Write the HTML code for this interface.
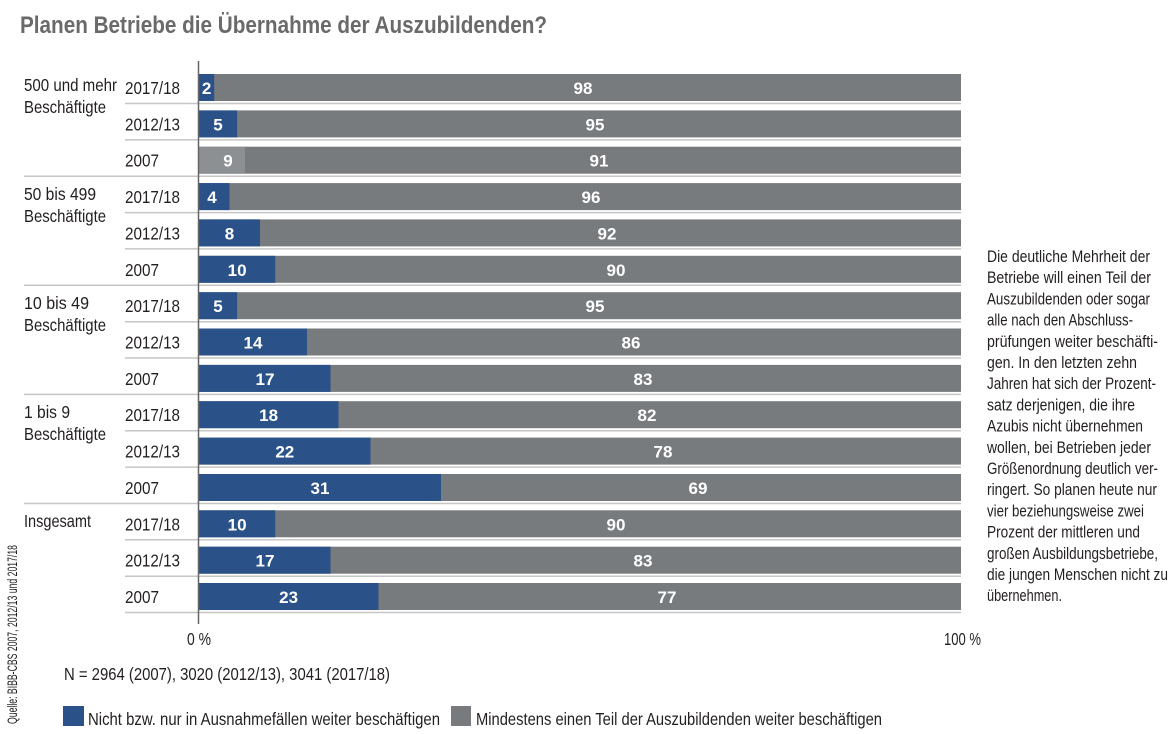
<!DOCTYPE html>
<html><head><meta charset="utf-8"><style>
html,body{margin:0;padding:0;background:#fff;}
svg{display:block;}
text{font-family:"Liberation Sans Narrow","Liberation Sans",sans-serif;fill:#231f20;}
.n{fill:#fff;font-size:17px;font-weight:bold;text-anchor:middle;}
.y{font-size:17.5px;}
.r{font-size:16.5px;}
</style></head><body>
<svg width="1174" height="734" viewBox="0 0 1174 734" xmlns="http://www.w3.org/2000/svg">
<text x="20" y="33" font-size="24" font-weight="bold" style="fill:#6a6a6a" textLength="527" lengthAdjust="spacingAndGlyphs">Planen Betriebe die Übernahme der Auszubildenden?</text>

<g stroke="#c6c6c6" stroke-width="1.5">
<line x1="125" x2="961" y1="103.5" y2="103.5"/><line x1="125" x2="961" y1="139.9" y2="139.9"/>
<line x1="24" x2="961" y1="176.2" y2="176.2"/>
<line x1="125" x2="961" y1="212.6" y2="212.6"/><line x1="125" x2="961" y1="248.9" y2="248.9"/>
<line x1="24" x2="961" y1="285.3" y2="285.3"/>
<line x1="125" x2="961" y1="321.7" y2="321.7"/><line x1="125" x2="961" y1="358" y2="358"/>
<line x1="24" x2="961" y1="394.4" y2="394.4"/>
<line x1="125" x2="961" y1="430.7" y2="430.7"/><line x1="125" x2="961" y1="467.1" y2="467.1"/>
<line x1="24" x2="961" y1="503.5" y2="503.5"/>
<line x1="125" x2="961" y1="539.8" y2="539.8"/><line x1="125" x2="961" y1="576.2" y2="576.2"/>
<line x1="125" x2="961" y1="612.5" y2="612.5"/>
</g>

<g fill="#777b7e">
<rect x="199" y="74" width="762" height="27"/><rect x="199" y="110.4" width="762" height="27"/><rect x="199" y="146.7" width="762" height="27"/>
<rect x="199" y="183.1" width="762" height="27"/><rect x="199" y="219.4" width="762" height="27"/><rect x="199" y="255.8" width="762" height="27"/>
<rect x="199" y="292.2" width="762" height="27"/><rect x="199" y="328.5" width="762" height="27"/><rect x="199" y="364.9" width="762" height="27"/>
<rect x="199" y="401.2" width="762" height="27"/><rect x="199" y="437.6" width="762" height="27"/><rect x="199" y="474" width="762" height="27"/>
<rect x="199" y="510.3" width="762" height="27"/><rect x="199" y="546.7" width="762" height="27"/><rect x="199" y="583" width="762" height="27"/>
</g>
<g fill="#2a5289">
<rect x="199" y="74" width="15.2" height="27"/><rect x="199" y="110.4" width="38.1" height="27"/>
<rect x="199" y="146.7" width="46" height="27" fill="#8d9093"/>
<rect x="199" y="183.1" width="30.5" height="27"/><rect x="199" y="219.4" width="61" height="27"/><rect x="199" y="255.8" width="76.2" height="27"/>
<rect x="199" y="292.2" width="38.1" height="27"/><rect x="199" y="328.5" width="108" height="27"/><rect x="199" y="364.9" width="131.5" height="27"/>
<rect x="199" y="401.2" width="139.5" height="27"/><rect x="199" y="437.6" width="171.5" height="27"/><rect x="199" y="474" width="242" height="27"/>
<rect x="199" y="510.3" width="76.2" height="27"/><rect x="199" y="546.7" width="131.5" height="27"/><rect x="199" y="583" width="179.5" height="27"/>
</g>
<line x1="198.5" x2="198.5" y1="61" y2="624" stroke="#666" stroke-width="1.5"/>

<g>
<text class="n" x="206.6" y="94">2</text><text class="n" x="583" y="94">98</text>
<text class="n" x="218" y="130.4">5</text><text class="n" x="595" y="130.4">95</text>
<text class="n" x="228" y="166.7">9</text><text class="n" x="599" y="166.7">91</text>
<text class="n" x="212" y="203.1">4</text><text class="n" x="591" y="203.1">96</text>
<text class="n" x="229.5" y="239.4">8</text><text class="n" x="607" y="239.4">92</text>
<text class="n" x="237.1" y="275.8">10</text><text class="n" x="616" y="275.8">90</text>
<text class="n" x="218" y="312.2">5</text><text class="n" x="595" y="312.2">95</text>
<text class="n" x="253" y="348.5">14</text><text class="n" x="631" y="348.5">86</text>
<text class="n" x="265" y="384.9">17</text><text class="n" x="643" y="384.9">83</text>
<text class="n" x="268.6" y="421.2">18</text><text class="n" x="647" y="421.2">82</text>
<text class="n" x="284.8" y="457.6">22</text><text class="n" x="663" y="457.6">78</text>
<text class="n" x="320" y="494">31</text><text class="n" x="698" y="494">69</text>
<text class="n" x="237.1" y="530.3">10</text><text class="n" x="616" y="530.3">90</text>
<text class="n" x="265" y="566.7">17</text><text class="n" x="643" y="566.7">83</text>
<text class="n" x="288.6" y="603">23</text><text class="n" x="667" y="603">77</text>
</g>

<g>
<text class="y" x="125" y="94" textLength="55" lengthAdjust="spacingAndGlyphs">2017/18</text>
<text class="y" x="125" y="130.4" textLength="55" lengthAdjust="spacingAndGlyphs">2012/13</text>
<text class="y" x="125" y="166.7" textLength="34" lengthAdjust="spacingAndGlyphs">2007</text>
<text class="y" x="125" y="203.1" textLength="55" lengthAdjust="spacingAndGlyphs">2017/18</text>
<text class="y" x="125" y="239.4" textLength="55" lengthAdjust="spacingAndGlyphs">2012/13</text>
<text class="y" x="125" y="275.8" textLength="34" lengthAdjust="spacingAndGlyphs">2007</text>
<text class="y" x="125" y="312.2" textLength="55" lengthAdjust="spacingAndGlyphs">2017/18</text>
<text class="y" x="125" y="348.5" textLength="55" lengthAdjust="spacingAndGlyphs">2012/13</text>
<text class="y" x="125" y="384.9" textLength="34" lengthAdjust="spacingAndGlyphs">2007</text>
<text class="y" x="125" y="421.2" textLength="55" lengthAdjust="spacingAndGlyphs">2017/18</text>
<text class="y" x="125" y="457.6" textLength="55" lengthAdjust="spacingAndGlyphs">2012/13</text>
<text class="y" x="125" y="494" textLength="34" lengthAdjust="spacingAndGlyphs">2007</text>
<text class="y" x="125" y="530.3" textLength="55" lengthAdjust="spacingAndGlyphs">2017/18</text>
<text class="y" x="125" y="566.7" textLength="55" lengthAdjust="spacingAndGlyphs">2012/13</text>
<text class="y" x="125" y="603" textLength="34" lengthAdjust="spacingAndGlyphs">2007</text>

<text class="y" x="24" y="91" textLength="93" lengthAdjust="spacingAndGlyphs">500 und mehr</text>
<text class="y" x="24" y="113" textLength="82" lengthAdjust="spacingAndGlyphs">Beschäftigte</text>
<text class="y" x="24" y="200" textLength="72" lengthAdjust="spacingAndGlyphs">50 bis 499</text>
<text class="y" x="24" y="222" textLength="82" lengthAdjust="spacingAndGlyphs">Beschäftigte</text>
<text class="y" x="24" y="309" textLength="65" lengthAdjust="spacingAndGlyphs">10 bis 49</text>
<text class="y" x="24" y="331" textLength="82" lengthAdjust="spacingAndGlyphs">Beschäftigte</text>
<text class="y" x="24" y="418" textLength="46" lengthAdjust="spacingAndGlyphs">1 bis 9</text>
<text class="y" x="24" y="440" textLength="82" lengthAdjust="spacingAndGlyphs">Beschäftigte</text>
<text class="y" x="24" y="527" textLength="67" lengthAdjust="spacingAndGlyphs">Insgesamt</text>
</g>

<text class="y" x="187" y="645" textLength="24" lengthAdjust="spacingAndGlyphs">0 %</text>
<text class="y" x="944" y="645" textLength="37" lengthAdjust="spacingAndGlyphs">100 %</text>
<text class="y" x="64" y="680" textLength="326" lengthAdjust="spacingAndGlyphs">N = 2964 (2007), 3020 (2012/13), 3041 (2017/18)</text>
<rect x="63" y="706" width="21" height="20" fill="#2a5289"/>
<text class="y" x="88" y="725" textLength="352" lengthAdjust="spacingAndGlyphs">Nicht bzw. nur in Ausnahmefällen weiter beschäftigen</text>
<rect x="451" y="706" width="20" height="20" fill="#777b7e"/>
<text class="y" x="476" y="725" textLength="406" lengthAdjust="spacingAndGlyphs">Mindestens einen Teil der Auszubildenden weiter beschäftigen</text>

<text x="17" y="724" font-size="13.5" transform="rotate(-90 17 724)" textLength="179" lengthAdjust="spacingAndGlyphs">Quelle: BIBB-CBS 2007, 2012/13 und 2017/18</text>

<g>
<text class="r" x="987" y="262" textLength="163" lengthAdjust="spacingAndGlyphs">Die deutliche Mehrheit der</text>
<text class="r" x="987" y="283.2" textLength="164" lengthAdjust="spacingAndGlyphs">Betriebe will einen Teil der</text>
<text class="r" x="987" y="304.4" textLength="163" lengthAdjust="spacingAndGlyphs">Auszubildenden oder sogar</text>
<text class="r" x="987" y="325.6" textLength="146" lengthAdjust="spacingAndGlyphs">alle nach den Abschluss-</text>
<text class="r" x="987" y="346.8" textLength="171" lengthAdjust="spacingAndGlyphs">prüfungen weiter beschäfti-</text>
<text class="r" x="987" y="368" textLength="150" lengthAdjust="spacingAndGlyphs">gen. In den letzten zehn</text>
<text class="r" x="987" y="389.2" textLength="169" lengthAdjust="spacingAndGlyphs">Jahren hat sich der Prozent-</text>
<text class="r" x="987" y="410.4" textLength="148" lengthAdjust="spacingAndGlyphs">satz derjenigen, die ihre</text>
<text class="r" x="987" y="431.6" textLength="156" lengthAdjust="spacingAndGlyphs">Azubis nicht übernehmen</text>
<text class="r" x="987" y="452.8" textLength="164" lengthAdjust="spacingAndGlyphs">wollen, bei Betrieben jeder</text>
<text class="r" x="987" y="474" textLength="171" lengthAdjust="spacingAndGlyphs">Größenordnung deutlich ver-</text>
<text class="r" x="987" y="495.2" textLength="170" lengthAdjust="spacingAndGlyphs">ringert. So planen heute nur</text>
<text class="r" x="987" y="516.4" textLength="157" lengthAdjust="spacingAndGlyphs">vier beziehungsweise zwei</text>
<text class="r" x="987" y="537.6" textLength="153" lengthAdjust="spacingAndGlyphs">Prozent der mittleren und</text>
<text class="r" x="987" y="558.8" textLength="171" lengthAdjust="spacingAndGlyphs">großen Ausbildungsbetriebe,</text>
<text class="r" x="987" y="580" textLength="181" lengthAdjust="spacingAndGlyphs">die jungen Menschen nicht zu</text>
<text class="r" x="987" y="601.2" textLength="75" lengthAdjust="spacingAndGlyphs">übernehmen.</text>
</g>
</svg>
</body></html>
